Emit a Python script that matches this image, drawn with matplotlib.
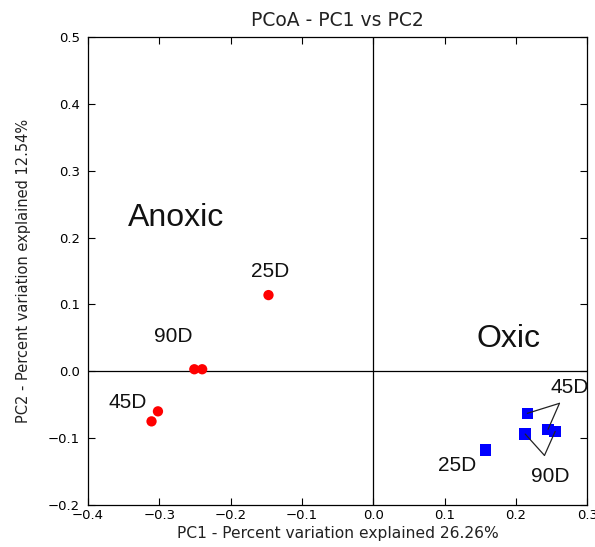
import matplotlib
matplotlib.use("Agg")
import matplotlib.pyplot as plt

# Data
anoxic_x = [-0.147, -0.251, -0.240, -0.302, -0.311]
anoxic_y = [0.114, 0.003, 0.003, -0.060, -0.075]
oxic_x = [0.157, 0.216, 0.213, 0.245, 0.255]
oxic_y = [-0.118, -0.063, -0.094, -0.087, -0.090]

xticks = [-0.4, -0.3, -0.2, -0.1, 0.0, 0.1, 0.2, 0.3]
yticks = [-0.2, -0.1, 0.0, 0.1, 0.2, 0.3, 0.4, 0.5]

fig = plt.figure(figsize=(5.95, 5.47), dpi=100)
ax = fig.add_axes([0.148, 0.077, 0.839, 0.855])

ax.axvline(0, color='black', lw=0.9, zorder=1)
ax.axhline(0, color='black', lw=0.9, zorder=1)

ax.scatter(anoxic_x, anoxic_y, s=55, c='#ff0000', marker='o', edgecolors='none', zorder=3)
ax.scatter(oxic_x, oxic_y, s=68, c='#0000ff', marker='s', edgecolors='none', zorder=3)

ax.set_xlim(-0.4, 0.3)
ax.set_ylim(-0.2, 0.5)
ax.set_xticks(xticks)
ax.set_yticks(yticks)
ax.set_xticklabels([f"{t:.1f}".replace('-', '\u2212') for t in xticks])
ax.set_yticklabels([f"{t:.1f}".replace('-', '\u2212') for t in yticks])
ax.tick_params(direction='in', top=True, right=True, length=5, labelsize=9.5)
ax.tick_params(axis='y', pad=6)
ax.tick_params(axis='x', pad=3)
for sp in ax.spines.values():
    sp.set_linewidth(0.9)

ax.set_title('PCoA - PC1 vs PC2', fontsize=13.5, pad=8, color='#222222')
ax.set_xlabel('PC1 - Percent variation explained 26.26%', fontsize=11.2, labelpad=3, color='#222222')
ax.set_ylabel('PC2 - Percent variation explained 12.54%', fontsize=10.5, labelpad=12, color='#222222')

lab = dict(family='Liberation Sans', fontsize=15, ha='center', va='center', color='#111111')
big = dict(family='Liberation Sans', fontsize=23, ha='center', va='center', color='#111111')
ax.text(-0.276, 0.230, 'Anoxic', **big)
ax.text(0.190, 0.048, 'Oxic', **big)

ax.text(-0.145, 0.149, '25D', **lab)
ax.text(-0.281, 0.052, '90D', **lab)
ax.text(-0.345, -0.047, '45D', **lab)
ax.text(0.118, -0.141, '25D', **lab)
ax.text(0.275, -0.024, '45D', **lab)
ax.text(0.248, -0.157, '90D', **lab)

# connector lines from label apex to sample points
apex45 = (0.261, -0.048)
apex90 = (0.240, -0.126)
for i in (1, 3):
    ax.annotate('', xy=(oxic_x[i], oxic_y[i]), xytext=apex45,
                arrowprops=dict(arrowstyle='-', color='#222222', lw=0.9, shrinkA=0, shrinkB=0))
for i in (2, 4):
    ax.annotate('', xy=(oxic_x[i], oxic_y[i]), xytext=apex90,
                arrowprops=dict(arrowstyle='-', color='#222222', lw=0.9, shrinkA=0, shrinkB=0))

fig.savefig('out.png', dpi=100)
